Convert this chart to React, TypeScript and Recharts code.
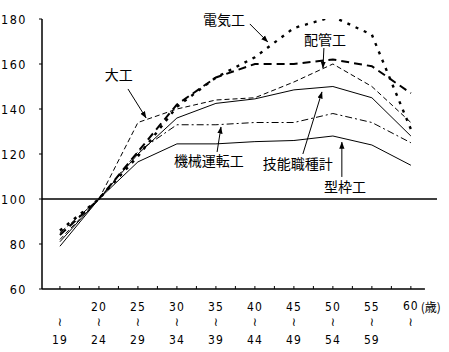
import React from 'react';
import { LineChart, Line, XAxis, YAxis, ReferenceLine, Customized } from 'recharts';

// ---- data ----
const categories = ['15-19', '20-24', '25-29', '30-34', '35-39', '40-44', '45-49', '50-54', '55-59', '60-'];
const startLabels = ['', '20', '25', '30', '35', '40', '45', '50', '55', '60'];
const endLabels = ['19', '24', '29', '34', '39', '44', '49', '54', '59', ''];
const denki = [86, 100, 119, 141, 154, 163, 176, 181, 173, 131];      // 電気工
const haikan = [84, 100, 121, 142, 154, 160, 160, 162, 159, 147];     // 配管工
const daiku = [82, 100, 134, 140, 144, 145, 152, 160, 150, 134];      // 大工
const ginou = [81, 100, 120, 136, 142.5, 144.5, 148.5, 150, 145, 128]; // 技能職種計
const kikai = [85, 100, 121, 133, 133, 134, 134, 138, 134, 125];      // 機械運転工
const katawaku = [79, 100, 116.5, 124.5, 124.5, 125.5, 126, 128, 124, 115]; // 型枠工
const yTicks = [60, 80, 100, 120, 140, 160, 180];
const xTicks = [0, 0.5, 1, 1.5, 2, 2.5, 3, 3.5, 4, 4.5, 5, 5.5, 6, 6.5, 7, 7.5, 8, 8.5, 9];
const unitLabel = '(歳)';

const data = categories.map((c, i) => ({
  i,
  c,
  denki: denki[i],
  haikan: haikan[i],
  daiku: daiku[i],
  ginou: ginou[i],
  kikai: kikai[i],
  katawaku: katawaku[i],
}));

// annotations in data units: [label, textX, textY, arrowFromX, arrowFromY, arrowToX, arrowToY]
const annotations: [string, number, number, number, number, number, number][] = [
  ['大工', 1.51, 155.1, 1.745, 148.9, 2.21, 136],
  ['電気工', 4.21, 179.6, 4.87, 177.8, 5.33, 169.8],
  ['配管工', 6.8, 170.7, 6.77, 167.1, 6.745, 158.2],
  ['機械運転工', 3.82, 116.9, 4.03, 120.9, 4.13, 132],
  ['技能職種計', 6.1, 115.6, 6.23, 120, 6.72, 147.6],
  ['型枠工', 7.31, 105.3, 7.23, 109.8, 7.23, 125.3],
];

// ---- layout ----
const W = 449;
const H = 352;
const M = { top: 19, right: 12, bottom: 3, left: 0 };
const Y_W = 42;
const X_H = 60;
const XD: [number, number] = [-0.46, 9.67];
const YD: [number, number] = [60, 180];
const PL = M.left + Y_W;
const PR = W - M.right;
const PT = M.top;
const PB = H - M.bottom - X_H;
const sx = (v: number) => PL + ((v - XD[0]) / (XD[1] - XD[0])) * (PR - PL);
const sy = (v: number) => PB - ((v - YD[0]) / (YD[1] - YD[0])) * (PB - PT);

const numFont = "'Liberation Sans Narrow', 'DejaVu Sans Condensed', 'Liberation Sans', sans-serif";
const jpFont = "'Noto Sans CJK JP', sans-serif";

const XTick = (props: any) => {
  const { x, y, payload } = props;
  const v = payload.value as number;
  const idx = Math.round(v);
  const isCat = Math.abs(v - idx) < 1e-6;
  return (
    <g>
      <line x1={x} x2={x} y1={y} y2={y - 3} stroke="#000" strokeWidth={1} />
      {isCat && (
        <g fontFamily={numFont} fontSize={12} fill="#000">
          <text x={x} y={y + (idx === 9 ? 21 : 22)} textAnchor="middle" letterSpacing={1}>
            {startLabels[idx]}
          </text>
          <text x={x} y={y + 37} textAnchor="middle" fontFamily="'DejaVu Sans', sans-serif" fontSize={12} fill="#000">
            ≀
          </text>
          <text x={x} y={y + 55} textAnchor="middle" letterSpacing={1}>
            {endLabels[idx]}
          </text>
          {idx === 9 && (
            <text x={x + 20} y={y + 23} textAnchor="middle" fontFamily={jpFont} fontSize={12}>
              {unitLabel}
            </text>
          )}
        </g>
      )}
    </g>
  );
};

const YTick = (props: any) => {
  const { x, y, payload } = props;
  return (
    <text x={x} y={y + 4.5} textAnchor="end" fontFamily={numFont} fontSize={12.5} letterSpacing={1.5} fill="#000">
      {payload.value}
    </text>
  );
};

const Annotations = () => (
  <g>
    <defs>
      <marker id="arr" viewBox="0 0 8 8" refX="7.5" refY="4" markerWidth="7" markerHeight="7" orient="auto" markerUnits="userSpaceOnUse">
        <path d="M0,1 L8,4 L0,7 z" fill="#000" />
      </marker>
    </defs>
    {annotations.map(([label, tx, ty, fx, fy, ax, ay]) => (
      <g key={label}>
        <line x1={sx(fx)} y1={sy(fy)} x2={sx(ax)} y2={sy(ay)} stroke="#000" strokeWidth={1} markerEnd="url(#arr)" />
        <text x={sx(tx)} y={sy(ty) + 5} textAnchor="middle" fontFamily={jpFont} fontSize={14} fill="#000">
          {label}
        </text>
      </g>
    ))}
  </g>
);

export default function App() {
  return (
    <div style={{ position: 'absolute', left: 0, top: 0, width: W, height: H, background: '#fff' }}>
      <LineChart width={W} height={H} data={data} margin={M}>
        <XAxis
          type="number"
          dataKey="i"
          domain={XD}
          ticks={xTicks}
          interval={0}
          axisLine={false}
          tickLine={false}
          tickSize={0}
          tickMargin={0}
          height={X_H}
          tick={<XTick />}
          allowDataOverflow
        />
        <YAxis
          type="number"
          domain={YD}
          ticks={yTicks}
          interval={0}
          width={Y_W}
          axisLine={{ stroke: '#000', strokeWidth: 1.5 }}
          tickLine={{ stroke: '#000', strokeWidth: 1 }}
          tickSize={3}
          tickMargin={12}
          tick={<YTick />}
          allowDataOverflow
        />
        <ReferenceLine y={100} stroke="#000" strokeWidth={1.5} />
        <ReferenceLine
          segment={[
            { x: XD[0], y: 60 },
            { x: 9.36, y: 60 },
          ]}
          stroke="#000"
          strokeWidth={1.5}
          ifOverflow="visible"
        />
        <Line type="linear" dataKey="katawaku" stroke="#000" strokeWidth={1} dot={false} isAnimationActive={false} />
        <Line type="linear" dataKey="ginou" stroke="#000" strokeWidth={1} dot={false} isAnimationActive={false} />
        <Line type="linear" dataKey="kikai" stroke="#000" strokeWidth={1} strokeDasharray="7 3 2 3" dot={false} isAnimationActive={false} />
        <Line type="linear" dataKey="daiku" stroke="#000" strokeWidth={1} strokeDasharray="5 3" dot={false} isAnimationActive={false} />
        <Line type="linear" dataKey="haikan" stroke="#000" strokeWidth={2} strokeDasharray="8 5" dot={false} isAnimationActive={false} />
        <Line type="linear" dataKey="denki" stroke="#000" strokeWidth={2.4} strokeDasharray="3 6" dot={false} isAnimationActive={false} />
        <Customized component={<Annotations />} />
      </LineChart>
    </div>
  );
}
